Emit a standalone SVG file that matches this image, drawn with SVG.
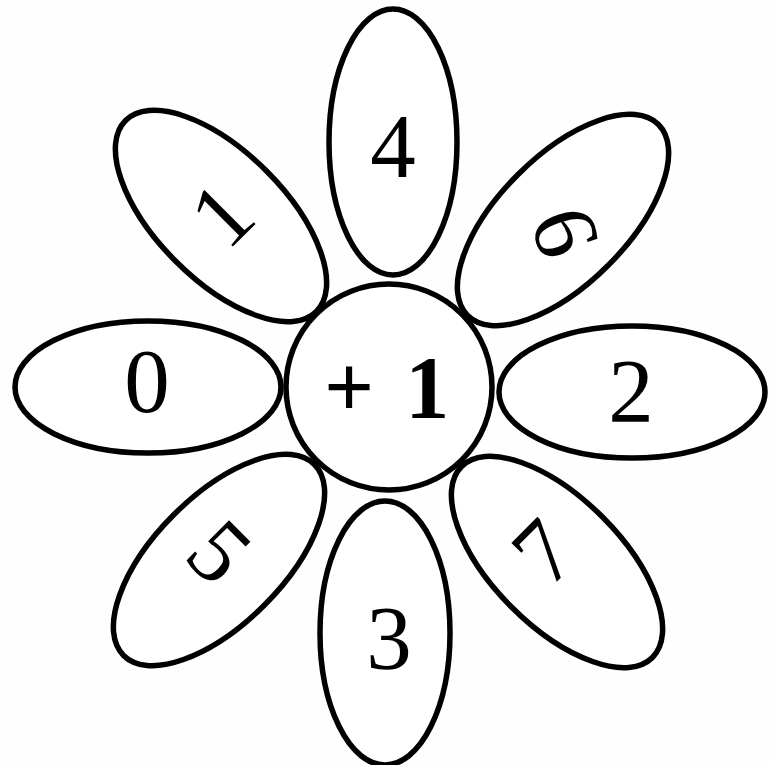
<svg xmlns="http://www.w3.org/2000/svg" width="771" height="765" viewBox="0 0 771 765">
<style>
.p{fill:#fff;stroke:#000;stroke-width:5.5}
.t{font-family:"Liberation Serif","Times New Roman",serif;font-size:91px;fill:#000;text-anchor:middle}
.b{font-family:"Liberation Serif","Times New Roman",serif;font-size:88px;font-weight:bold;fill:#000}
</style>
<rect width="771" height="765" fill="#fefefe"/>
<g id="petal-1"><ellipse class="p" cx="221" cy="216" rx="135" ry="64" transform="rotate(45 221 216)"/>
<text class="t" transform="translate(222 215) rotate(-45)" x="0" y="30">1</text></g>
<g id="petal-6"><ellipse class="p" cx="563" cy="220" rx="135" ry="64" transform="rotate(-45 563 220)"/>
<text class="t" transform="translate(565 232) rotate(72)" x="0" y="30">6</text></g>
<g id="petal-5"><ellipse class="p" cx="219" cy="560" rx="135" ry="64" transform="rotate(-45 219 560)"/>
<text class="t" transform="translate(219 552) rotate(45)" x="0" y="30">5</text></g>
<g id="petal-7"><ellipse class="p" cx="557" cy="562" rx="135" ry="64" transform="rotate(45 557 562)"/>
<text class="t" transform="translate(544 552) rotate(-45)" x="0" y="30">7</text></g>
<g id="petal-4"><ellipse class="p" cx="393" cy="142" rx="64" ry="133"/>
<text class="t" x="393" y="177">4</text></g>
<g id="petal-3"><ellipse class="p" cx="385" cy="633" rx="65" ry="132"/>
<text class="t" x="389" y="669">3</text></g>
<g id="petal-0"><ellipse class="p" cx="148" cy="387" rx="133" ry="66"/>
<text class="t" x="147" y="412">0</text></g>
<g id="petal-2"><ellipse class="p" cx="632" cy="392" rx="133" ry="66"/>
<text class="t" x="631" y="422">2</text></g>
<g id="center"><circle class="p" cx="389" cy="387" r="103"/>
<text class="b" x="324" y="417">+<tspan dx="31">1</tspan></text></g>
</svg>
